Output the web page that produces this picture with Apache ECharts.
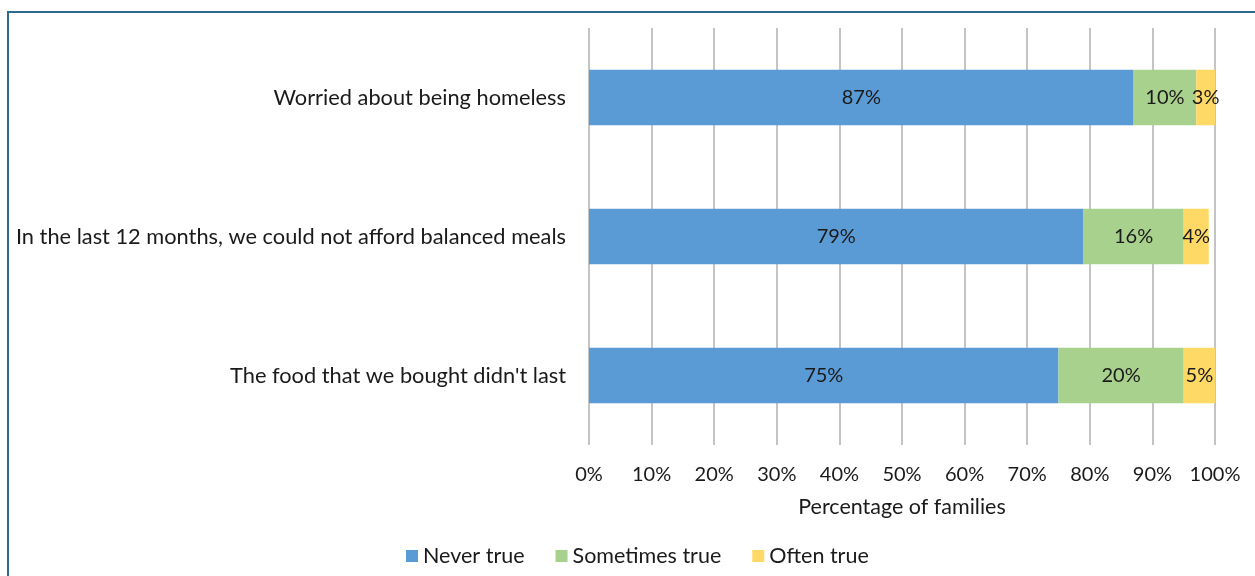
<!DOCTYPE html>
<html>
<head>
<meta charset="utf-8">
<script src="https://cdn.jsdelivr.net/npm/echarts@6/dist/echarts.min.js"></script>
<style>
  html, body { margin: 0; padding: 0; background: #fff; }
  #chart { width: 1255px; height: 576px; }
</style>
</head>
<body>
<div id="chart"></div>
<script>
// Survey statements, top to bottom
const statements = [
  "Worried about being homeless",
  "In the last 12 months, we could not afford balanced meals",
  "The food that we bought didn't last"
];
// Share of families per answer (%)
const neverTrue = [87, 79, 75];
const sometimesTrue = [10, 16, 20];
const oftenTrue = [3, 4, 5];
const seriesNames = ["Never true", "Sometimes true", "Often true"];
const seriesColors = ["#5b9bd5", "#a9d18e", "#ffd966"];
const xTicks = [0, 10, 20, 30, 40, 50, 60, 70, 80, 90, 100];

const FONT = "Lato, 'Open Sans', sans-serif";
const TEXT = "#1a1a1a";

const chart = echarts.init(document.getElementById("chart"), null, { renderer: "canvas" });

function barSeries(name, data, color) {
  return {
    name: name,
    type: "bar",
    stack: "total",
    data: data,
    barWidth: "40%",
    itemStyle: { color: color },
    label: {
      show: true,
      position: "inside",
      formatter: "{c}%",
      color: TEXT,
      fontFamily: FONT,
      fontSize: 20
    },
    emphasis: { disabled: true }
  };
}

chart.setOption({
  animation: false,
  backgroundColor: "#ffffff",
  textStyle: { fontFamily: FONT, color: TEXT },
  grid: { left: 589, right: 40, top: 28, bottom: 131, containLabel: false },
  xAxis: {
    type: "value",
    min: xTicks[0],
    max: xTicks[xTicks.length - 1],
    interval: xTicks[1] - xTicks[0],
    axisLine: { show: false },
    axisTick: { show: false },
    splitLine: { show: true, lineStyle: { color: "#c4c4c4", width: 2 } },
    axisLabel: {
      formatter: "{value}%",
      color: TEXT,
      fontFamily: FONT,
      fontSize: 20,
      margin: 20
    },
    name: "Percentage of families",
    nameLocation: "middle",
    nameGap: 51,
    nameTextStyle: { color: TEXT, fontFamily: FONT, fontSize: 21.5 }
  },
  yAxis: {
    type: "category",
    inverse: true,
    data: statements,
    axisLine: { show: false },
    axisTick: { show: false },
    axisLabel: { color: TEXT, fontFamily: FONT, fontSize: 21.8, margin: 23 }
  },
  legend: {
    bottom: 9,
    left: 406,
    padding: 0,
    icon: "rect",
    itemWidth: 12,
    itemHeight: 12,
    itemGap: 31,
    textStyle: { color: TEXT, fontFamily: FONT, fontSize: 21.5 },
    data: seriesNames
  },
  graphic: [{
    type: "rect",
    shape: { x: 8, y: 12, width: 1300, height: 620 },
    style: { fill: "none", stroke: "#2e6a8e", lineWidth: 2 },
    silent: true
  }],
  series: [
    barSeries(seriesNames[0], neverTrue, seriesColors[0]),
    barSeries(seriesNames[1], sometimesTrue, seriesColors[1]),
    barSeries(seriesNames[2], oftenTrue, seriesColors[2])
  ]
});
</script>
</body>
</html>
